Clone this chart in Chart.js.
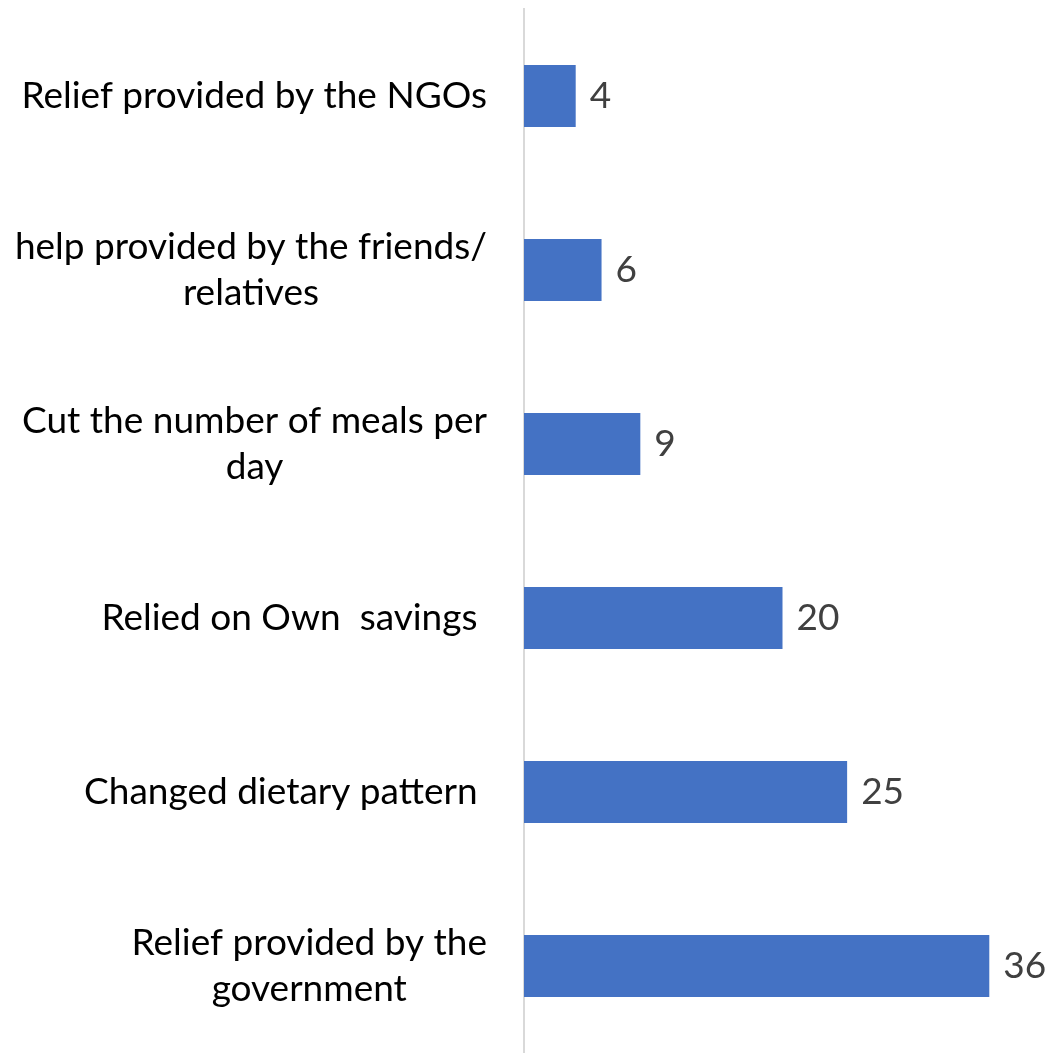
<!DOCTYPE html>
<html>
<head>
<meta charset="utf-8">
<script src="https://cdn.jsdelivr.net/npm/chart.js@4"></script>
<style>
  html, body { margin: 0; padding: 0; background: #fff; }
  #wrap { width: 1051px; height: 1053px; position: relative; }
</style>
</head>
<body>
<div id="wrap"><canvas id="myChart"></canvas></div>
<script>
const categories = [
  ['Relief provided by the NGOs'],
  ['help provided by the friends/', 'relatives'],
  ['Cut the number of meals per', 'day'],
  ['Relied on Own  savings '],
  ['Changed dietary pattern '],
  ['Relief provided by the', 'government']
]
const values = [4, 6, 9, 20, 25, 36]
const xMax = 40

const labelFont = '37px Lato, "Open Sans", sans-serif'

// category labels: each block right aligned, lines centred inside the block
const catLabels = {
  id: 'catLabels',
  afterDraw(chart) {
    const ctx = chart.ctx
    const y = chart.scales.y
    const right = y.right - 37
    const lineH = 46
    ctx.save()
    ctx.font = labelFont
    ctx.fillStyle = '#000000'
    ctx.textAlign = 'center'
    ctx.textBaseline = 'middle'
    categories.forEach((lines, i) => {
      const cy = y.getPixelForValue(i)
      const widest = Math.max(...lines.map(l => ctx.measureText(l).width))
      const cx = right - widest / 2
      const top = cy - (lines.length - 1) * lineH / 2
      lines.forEach((l, j) => ctx.fillText(l, cx, top + j * lineH))
    })
    ctx.restore()
  }
}

// value labels next to bars
const valueLabels = {
  id: 'valueLabels',
  afterDatasetsDraw(chart) {
    const ctx = chart.ctx
    const meta = chart.getDatasetMeta(0)
    ctx.save()
    ctx.font = labelFont
    ctx.fillStyle = '#404040'
    ctx.textAlign = 'left'
    ctx.textBaseline = 'middle'
    meta.data.forEach((bar, i) => {
      ctx.fillText(String(values[i]), bar.x + 14, bar.y)
    })
    ctx.restore()
  }
}

function drawChart() {
  const ctx = document.getElementById('myChart')
  new Chart(ctx, {
    type: 'bar',
    data: {
      labels: categories.map(c => c.join(' ')),
      datasets: [{
        data: values,
        backgroundColor: '#4472C4',
        borderWidth: 0,
        categoryPercentage: 1,
        barPercentage: 0.356
      }]
    },
    options: {
      indexAxis: 'y',
      responsive: true,
      maintainAspectRatio: false,
      animation: false,
      layout: { padding: { top: 9, right: 10, bottom: 0, left: 0 } },
      plugins: { legend: { display: false }, tooltip: { enabled: false } },
      scales: {
        x: { display: false, min: 0, max: xMax },
        y: {
          grid: { display: false, drawTicks: false },
          border: { display: true, color: '#D9D9D9', width: 2 },
          ticks: { display: false },
          afterFit(scale) { scale.width = 524 }
        }
      }
    },
    plugins: [catLabels, valueLabels]
  })
}

document.addEventListener('DOMContentLoaded', drawChart)
</script>
</body>
</html>
